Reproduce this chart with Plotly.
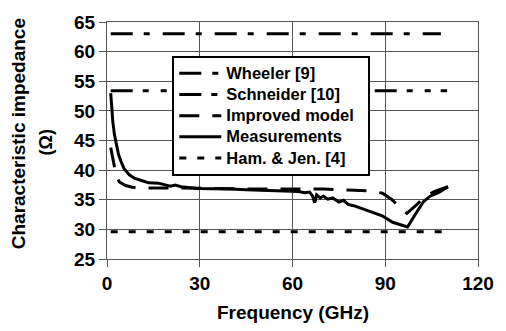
import plotly.graph_objects as go

# ---- data ----
wheeler_x = [1.2, 108.0]
wheeler_y = [63.0, 63.0]

schneider_x = [1.2, 110.0]
schneider_y = [53.4, 53.4]

improved_x = [1.2, 2.0, 3.0, 4.0, 6.0, 8.2, 12, 20, 30, 40, 50, 60, 70, 80, 85,
              89.1, 92.0, 94.3, 97.0, 100.0, 103.0, 106.0, 110.3]
improved_y = [43.8, 41.5, 39.0, 38.0, 37.4, 37.1, 37.0, 37.0, 36.9, 36.9, 36.8, 36.8,
              36.8, 36.6, 36.5, 36.1, 35.1, 33.9, 32.7, 34.1, 35.6, 36.4, 37.2]

meas_x = [1.2, 1.5, 1.9, 2.4, 3.0, 3.7, 4.5, 5.5, 7.2, 9.0, 11.4, 13.5, 16.6, 19.0,
          20.5, 22.0, 24.0, 29.3, 35, 40, 45, 50, 55, 59.8, 62, 64, 65.5, 66.5, 67.2,
          67.8, 69, 70, 71.4, 73, 75, 76.5, 78, 79.8, 82, 86.2, 89, 92.4, 94.5, 97.2,
          99.8, 102.4, 104.5, 107.2, 110.3]
meas_y = [53.0, 50.5, 48.1, 46.0, 44.2, 42.7, 41.5, 40.3, 39.2, 38.6, 38.2, 37.85, 37.8,
          37.5, 37.3, 37.5, 37.2, 36.9, 36.9, 36.8, 36.7, 36.6, 36.5, 36.4, 36.4, 36.2,
          36.3, 35.6, 34.5, 35.8, 35.3, 35.6, 35.1, 35.3, 34.6, 34.9, 34.2, 34.0, 33.6,
          32.9, 32.3, 31.2, 30.9, 30.4, 32.6, 34.7, 35.6, 36.2, 37.2]

hj_x = [1.2, 110.0]
hj_y = [29.6, 29.6]

x_ticks = [0, 30, 60, 90, 120]
y_ticks = [25, 30, 35, 40, 45, 50, 55, 60, 65]

FONT = "Liberation Sans"
GRID = "#555555"


def lg(name):
    return '<span style="font-size:16.5px">' + name + '</span>'


fig = go.Figure()
fig.add_trace(go.Scatter(x=wheeler_x, y=wheeler_y, mode="lines", name=lg("Wheeler [9]"),
                         line=dict(color="black", width=3, dash="22px,11px,6px,13px")))
fig.add_trace(go.Scatter(x=schneider_x, y=schneider_y, mode="lines", name=lg("Schneider [10]"),
                         line=dict(color="black", width=3, dash="22px,10px,6px,12px,6px,10px")))
fig.add_trace(go.Scatter(x=improved_x, y=improved_y, mode="lines",
                         name=lg("Improved model&nbsp;&nbsp;"),
                         line=dict(color="black", width=3, dash="20px,13px")))
fig.add_trace(go.Scatter(x=meas_x, y=meas_y, mode="lines", name=lg("Measurements"),
                         line=dict(color="black", width=3)))
fig.add_trace(go.Scatter(x=hj_x, y=hj_y, mode="lines", name=lg("Ham. &amp; Jen. [4]"),
                         line=dict(color="black", width=3, dash="7px,11px")))

fig.update_layout(
    width=506, height=331,
    margin=dict(l=107, r=19, t=18, b=72),
    paper_bgcolor="white", plot_bgcolor="white",
    font=dict(family=FONT, color="black", size=16, weight="bold"),
    showlegend=True,
    legend=dict(x=0.176, y=0.858, xanchor="left", yanchor="top",
                bgcolor="white", bordercolor="black", borderwidth=2,
                font=dict(family=FONT, size=14, weight="bold"),
                traceorder="normal", itemwidth=42),
    xaxis=dict(range=[0, 120], tickvals=x_ticks, ticktext=[str(v) for v in x_ticks],
               showgrid=True, gridcolor=GRID, gridwidth=1,
               showline=True, linecolor=GRID, linewidth=1, mirror=True,
               ticks="outside", ticklen=7, tickcolor=GRID,
               tickfont=dict(family=FONT, size=19, weight="bold"),
               zeroline=False),
    yaxis=dict(range=[25, 65], tickvals=y_ticks, ticktext=[str(v) for v in y_ticks],
               showgrid=True, gridcolor=GRID, gridwidth=1,
               showline=True, linecolor=GRID, linewidth=1, mirror=True,
               ticks="outside", ticklen=7, tickcolor=GRID,
               tickfont=dict(family=FONT, size=19, weight="bold"),
               zeroline=False),
    annotations=[
        dict(text="Characteristic impedance", textangle=-90, xref="paper", yref="paper",
             x=(16 - 107) / 380, y=(259 - 132) / 241, xanchor="center", yanchor="middle",
             showarrow=False, font=dict(family=FONT, size=19, weight="bold")),
        dict(text="(Ω)", textangle=-90, xref="paper", yref="paper",
             x=(44 - 107) / 380, y=(259 - 140) / 241, xanchor="center", yanchor="middle",
             showarrow=False, font=dict(family=FONT, size=18, weight="bold")),
        dict(text="Frequency (GHz)", xref="paper", yref="paper",
             x=0.5, y=(259 - 313) / 241, xanchor="center", yanchor="middle",
             showarrow=False, font=dict(family=FONT, size=19, weight="bold")),
    ],
)

fig.write_html("out.html", config={"displayModeBar": False},
               post_script="document.body.style.margin='0';document.body.style.overflow='hidden';")
